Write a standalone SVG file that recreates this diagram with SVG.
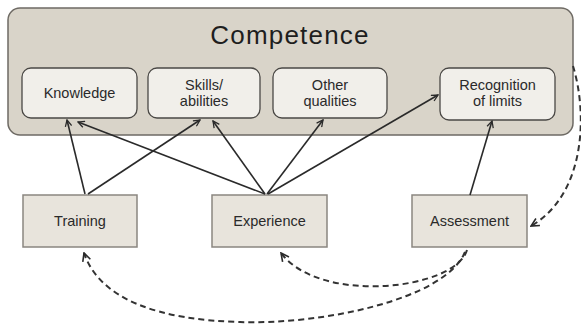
<svg xmlns="http://www.w3.org/2000/svg" width="581" height="327" viewBox="0 0 581 327">
<defs>
<style>
.outer{fill:#d9d4c9;stroke:#6e6a64;stroke-width:1.5}
.inner{fill:#f1efea;stroke:#4a4845;stroke-width:1.3}
.src{fill:#e8e4dc;stroke:#8a8680;stroke-width:1.5}
.t{font-family:"Liberation Sans",Arial,sans-serif;font-size:14.5px;fill:#2a2a2a;text-anchor:middle}
.title{font-family:"Liberation Sans",Arial,sans-serif;font-size:26px;letter-spacing:1.2px;fill:#1e1e1e;text-anchor:middle}
.a{fill:none;stroke:#2a2a2a;stroke-width:1.6;marker-end:url(#ah)}
.d{fill:none;stroke:#333;stroke-width:2;stroke-dasharray:6,4;marker-end:url(#ah)}
</style>
<marker id="ah" viewBox="0 0 10 10" refX="9" refY="5" markerWidth="5" markerHeight="5" orient="auto" markerUnits="strokeWidth">
<path d="M1,1 L9,5 L1,9" fill="none" stroke="#2a2a2a" stroke-width="1.6"/>
</marker>
</defs>
<g id="competence">
<rect class="outer" x="8" y="8" width="565" height="127" rx="12"/>
<text class="title" x="290" y="44">Competence</text>
</g>
<g id="knowledge">
<rect class="inner" x="22" y="68" width="115" height="50" rx="9"/>
<text class="t" x="79.5" y="98">Knowledge</text>
</g>
<g id="skills">
<rect class="inner" x="148" y="68" width="112" height="50" rx="9"/>
<text class="t" x="204" y="90">Skills/</text>
<text class="t" x="204" y="106">abilities</text>
</g>
<g id="other">
<rect class="inner" x="273" y="68" width="114" height="50" rx="9"/>
<text class="t" x="330" y="90">Other</text>
<text class="t" x="330" y="106">qualities</text>
</g>
<g id="recognition">
<rect class="inner" x="440" y="68" width="115" height="52" rx="9"/>
<text class="t" x="497.5" y="90">Recognition</text>
<text class="t" x="497.5" y="106">of limits</text>
</g>
<g id="training">
<rect class="src" x="23" y="195" width="114" height="52"/>
<text class="t" x="80" y="226">Training</text>
</g>
<g id="experience">
<rect class="src" x="212" y="195" width="115" height="52"/>
<text class="t" x="269.5" y="226">Experience</text>
</g>
<g id="assessment">
<rect class="src" x="412" y="195" width="115" height="52"/>
<text class="t" x="469.5" y="226">Assessment</text>
</g>
<g id="connectors">
<path class="a" d="M85,194 L67,120"/>
<path class="a" d="M88,194 L200,120"/>
<path class="a" d="M265,194 L78,122"/>
<path class="a" d="M265,194 L213,121"/>
<path class="a" d="M267,194 L323,120"/>
<path class="a" d="M268,194 L438,95"/>
<path class="a" d="M470,195 L492,121"/>
<path class="d" d="M573,66 C588,115 585,195 531,226"/>
<path class="d" d="M467,250 C455,290 320,305 281,253"/>
<path class="d" d="M465,252 C445,300 320,325 240,322 C160,320 100,300 84,253"/>
</g>
</svg>
